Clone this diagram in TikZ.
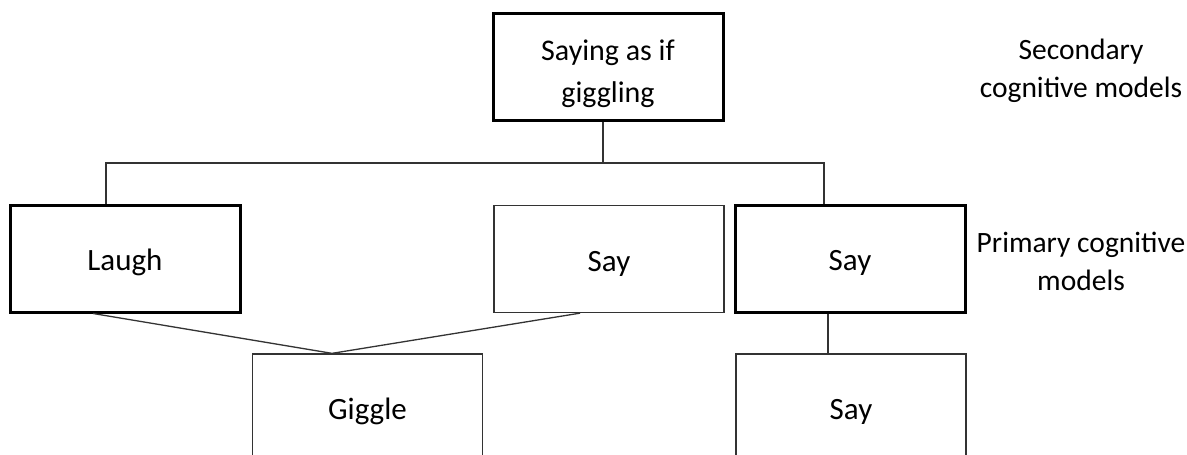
\documentclass[tikz,border=0pt]{standalone}
\usepackage{fontspec}
\setmainfont{Carlito}
\usetikzlibrary{calc}
\tikzset{
  base/.style={draw=black, minimum width=230pt, minimum height=107pt, inner sep=0pt, align=center, font=\fontsize{31}{40}\selectfont},
  onel/.style={text height=24pt, text depth=0pt},
  thickbox/.style={base, line width=3pt},
  thinbox/.style={base, line width=1.3pt, draw=black!80},
  conn/.style={line width=1.3pt, draw=black!80},
  lbl/.style={align=center, font=\fontsize{29.5}{38}\selectfont, inner sep=0pt}
}
\begin{document}
\begin{tikzpicture}[x=1pt,y=-1pt]
\useasboundingbox (0,0) rectangle (1187,455);
\clip (0,0) rectangle (1187,455);
\node[thickbox, font=\fontsize{30}{42}\selectfont, text height=71pt, text depth=0pt] (top) at (608,66.5) {Saying as if\\giggling};
\node[thickbox, onel] (laugh) at (125,258.5) {Laugh};
\node[thinbox, onel] (say1) at (609,259) {Say};
\node[thickbox, onel] (say2) at (850,258.5) {Say};
\node[thinbox, onel] (giggle) at (367.5,407.5) {Giggle};
\node[thinbox, onel] (say3) at (851,407.5) {Say};
\node[lbl] (sec) at (1081,71) {Secondary\\cognitive models};
\node[lbl] (pri) at (1081,261) {Primary cognitive\\models};
\coordinate (jm) at (603,163);
\coordinate (jl) at (106,163);
\coordinate (jr) at (824,163);
\draw[conn] (top.south -| jm) -- (jm);
\draw[conn] (jl |- laugh.north) -- (jl) -- (jr) -- (jr |- say2.north);
\coordinate (gt) at ($(giggle.north)+(-35.5,0)$);
\draw[conn] ($(laugh.south)+(-32,0)$) -- (gt) -- ($(say1.south)+(-29,0)$);
\draw[conn] ($(say2.south)+(-22,0)$) -- ($(say3.north)+(-23,0)$);
\end{tikzpicture}
\end{document}
